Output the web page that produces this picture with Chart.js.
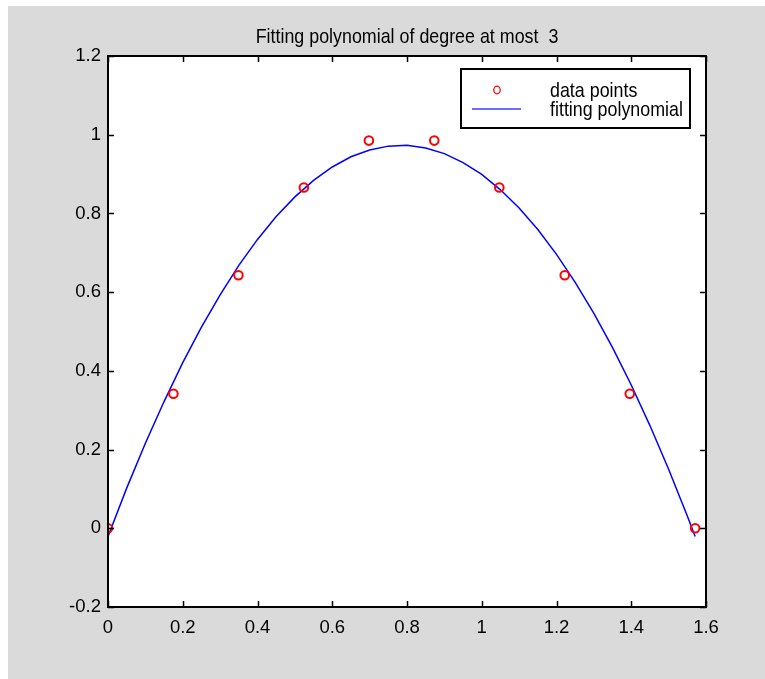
<!DOCTYPE html>
<html>
<head>
<meta charset="utf-8">
<script src="https://cdn.jsdelivr.net/npm/chart.js@4.4.0/dist/chart.umd.min.js"></script>
<style>
html,body{margin:0;padding:0;background:#fff;}
canvas{display:block;}
</style>
</head>
<body>
<canvas id="c" width="765" height="679"></canvas>
<script>
// ---- data ----
const titleText = "Fitting polynomial of degree at most  3";
const legendLabels = ["data points", "fitting polynomial"];
const pointX = [0, 0.175, 0.349, 0.524, 0.698, 0.873, 1.047, 1.222, 1.396, 1.571];
const pointY = [0, 0.342, 0.643, 0.866, 0.985, 0.985, 0.866, 0.643, 0.342, 0];
const curveX = [0, 0.05, 0.1, 0.15, 0.2, 0.25, 0.3, 0.35, 0.4, 0.45, 0.5, 0.55, 0.6, 0.65, 0.7, 0.75, 0.8,
                0.85, 0.9, 0.95, 1.0, 1.05, 1.1, 1.15, 1.2, 1.25, 1.3, 1.35, 1.4, 1.45, 1.5, 1.55, 1.571];
const curveY = [-0.021, 0.102, 0.216, 0.322, 0.421, 0.511, 0.593, 0.668, 0.734, 0.792, 0.842, 0.884, 0.918, 0.944, 0.961, 0.971, 0.973,
                0.966, 0.952, 0.929, 0.899, 0.860, 0.814, 0.759, 0.696, 0.625, 0.546, 0.459, 0.364, 0.261, 0.150, 0.031, -0.021];
const xTickValues = [0, 0.2, 0.4, 0.6, 0.8, 1, 1.2, 1.4, 1.6];
const xTickLabels = ["0", "0.2", "0.4", "0.6", "0.8", "1", "1.2", "1.4", "1.6"];
const yTickValues = [-0.2, 0, 0.2, 0.4, 0.6, 0.8, 1, 1.2];
const yTickLabels = ["-0.2", "0", "0.2", "0.4", "0.6", "0.8", "1", "1.2"];

const FONT = "'Liberation Sans', Arial, sans-serif";

function labelFor(values, labels, v) {
  for (let i = 0; i < values.length; i++) if (Math.abs(values[i] - v) < 1e-6) return labels[i];
  return "";
}

// draw text slightly condensed (tall, narrow look of the original)
function narrowText(ctx, text, x, y, align, baseline) {
  ctx.save();
  ctx.translate(x, y);
  ctx.scale(0.85, 1);
  ctx.font = '21px ' + FONT;
  ctx.textAlign = align;
  ctx.textBaseline = baseline;
  ctx.fillStyle = '#000';
  ctx.fillText(text, 0, 0);
  ctx.restore();
}

const framePlugin = {
  id: 'frame',
  beforeDraw(chart) {
    const ctx = chart.ctx, a = chart.chartArea;
    ctx.save();
    ctx.fillStyle = '#ffffff';
    ctx.fillRect(0, 0, chart.width, chart.height);
    ctx.fillStyle = '#dadada';
    ctx.fillRect(8, 6, chart.width - 8, chart.height - 6);
    ctx.fillStyle = '#ffffff';
    ctx.fillRect(a.left, a.top, a.right - a.left, a.bottom - a.top);
    ctx.restore();
  },
  afterDraw(chart) {
    const ctx = chart.ctx, a = chart.chartArea;
    const xs = chart.scales.x, ys = chart.scales.y;
    ctx.save();
    // title centred over the axes
    narrowText(ctx, titleText, (a.left + a.right) / 2, 43, 'center', 'alphabetic');

    ctx.strokeStyle = '#000';
    ctx.lineWidth = 2;
    ctx.strokeRect(a.left, a.top, a.right - a.left, a.bottom - a.top);
    ctx.lineWidth = 1.5;
    const tl = 6;
    ctx.beginPath();
    xTickValues.forEach(v => {
      const px = Math.round(xs.getPixelForValue(v)) + 0.5;
      ctx.moveTo(px, a.bottom); ctx.lineTo(px, a.bottom - tl);
      ctx.moveTo(px, a.top); ctx.lineTo(px, a.top + tl);
    });
    yTickValues.forEach(v => {
      const py = Math.round(ys.getPixelForValue(v)) + 0.5;
      ctx.moveTo(a.left, py); ctx.lineTo(a.left + tl, py);
      ctx.moveTo(a.right, py); ctx.lineTo(a.right - tl, py);
    });
    ctx.stroke();

    // legend box
    const bw = 229, bh = 59;
    const bx = a.right - 16 - bw, by = a.top + 13;
    ctx.fillStyle = '#fff';
    ctx.fillRect(bx, by, bw, bh);
    ctx.lineWidth = 2;
    ctx.strokeStyle = '#000';
    ctx.strokeRect(bx, by, bw, bh);
    ctx.strokeStyle = 'rgb(255,0,0)';
    ctx.lineWidth = 1.3;
    ctx.beginPath();
    ctx.ellipse(bx + 36, by + 21, 3.2, 3.8, 0, 0, Math.PI * 2);
    ctx.stroke();
    ctx.strokeStyle = 'rgb(60,60,255)';
    ctx.lineWidth = 1.5;
    ctx.beginPath();
    ctx.moveTo(bx + 11, by + 40); ctx.lineTo(bx + 60, by + 40);
    ctx.stroke();
    narrowText(ctx, chart.data.datasets[0].label, bx + 89, by + 22, 'left', 'middle');
    narrowText(ctx, chart.data.datasets[1].label, bx + 89, by + 41, 'left', 'middle');
    ctx.restore();
  }
};

new Chart(document.getElementById('c'), {
  type: 'scatter',
  data: {
    datasets: [
      {
        label: legendLabels[0],
        data: pointX.map((x, i) => ({x: x, y: pointY[i]})),
        showLine: false,
        pointRadius: 4.3,
        pointBorderWidth: 2,
        pointBorderColor: 'rgb(255,0,0)',
        pointBackgroundColor: 'rgba(0,0,0,0)',
        pointStyle: 'circle'
      },
      {
        label: legendLabels[1],
        data: curveX.map((x, i) => ({x: x, y: curveY[i]})),
        showLine: true,
        pointRadius: 0,
        borderColor: 'rgb(0,0,255)',
        borderWidth: 1.5,
        tension: 0,
        fill: false
      }
    ]
  },
  options: {
    responsive: false,
    animation: false,
    devicePixelRatio: 1,
    layout: {padding: {left: 0, right: 59, top: 56, bottom: 0}},
    plugins: {
      legend: {display: false},
      tooltip: {enabled: false},
      title: {display: false}
    },
    scales: {
      x: {
        type: 'linear',
        min: 0, max: 1.6,
        afterBuildTicks: s => { s.ticks = xTickValues.map(v => ({value: v})); },
        afterFit: s => { s.height = 72; },
        grid: {display: false, drawTicks: false},
        border: {display: false},
        ticks: {
          color: '#000',
          font: {family: FONT, size: 18.5},
          padding: 10,
          maxRotation: 0,
          callback: v => labelFor(xTickValues, xTickLabels, v)
        }
      },
      y: {
        type: 'linear',
        min: -0.2, max: 1.2,
        afterBuildTicks: s => { s.ticks = yTickValues.map(v => ({value: v})); },
        afterFit: s => { s.width = 108; },
        grid: {display: false, drawTicks: false},
        border: {display: false},
        ticks: {
          color: '#000',
          font: {family: FONT, size: 18.5},
          padding: 7,
          callback: v => labelFor(yTickValues, yTickLabels, v)
        }
      }
    }
  },
  plugins: [framePlugin]
});
</script>
</body>
</html>
